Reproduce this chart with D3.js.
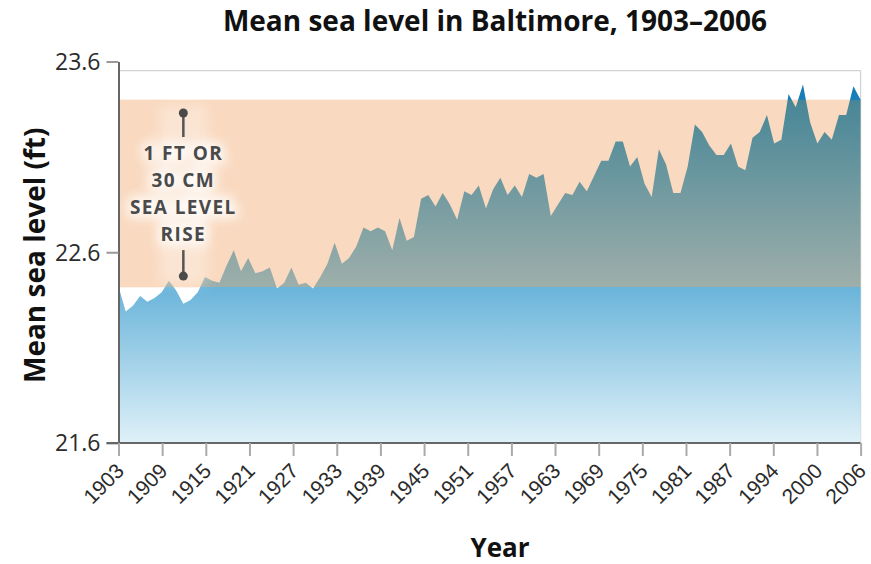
<!DOCTYPE html>
<html>
<head>
<meta charset="utf-8">
<script src="https://cdn.jsdelivr.net/npm/d3@7"></script>
<style>
  html, body { margin: 0; padding: 0; background: #fff; }
  svg { display: block; font-family: "Open Sans", "Noto Sans", sans-serif; }
</style>
</head>
<body>
<script>
// Annual mean sea level at Baltimore, in feet
const firstYear = 1903;
const lastYear = 2006;
const seaLevel = [
  22.42, 22.29, 22.32, 22.37, 22.34, 22.36, 22.39, 22.45, 22.40, 22.33, // 1903-1912
  22.35, 22.39, 22.47, 22.45, 22.44, 22.53, 22.61, 22.50, 22.57, 22.49, // 1913-1922
  22.50, 22.52, 22.41, 22.44, 22.52, 22.43, 22.44, 22.41, 22.47, 22.54, // 1923-1932
  22.65, 22.54, 22.57, 22.63, 22.73, 22.71, 22.73, 22.71, 22.61, 22.78, // 1933-1942
  22.66, 22.68, 22.88, 22.90, 22.84, 22.91, 22.85, 22.77, 22.92, 22.90, // 1943-1952
  22.95, 22.83, 22.93, 22.99, 22.90, 22.95, 22.89, 23.01, 22.99, 23.01, // 1953-1962
  22.79, 22.85, 22.91, 22.90, 22.97, 22.92, 23.00, 23.08, 23.08, 23.18, // 1963-1972
  23.18, 23.05, 23.10, 22.96, 22.89, 23.14, 23.06, 22.91, 22.91, 23.05, // 1973-1982
  23.27, 23.23, 23.16, 23.11, 23.11, 23.17, 23.05, 23.03, 23.20, 23.23, // 1983-1992
  23.32, 23.17, 23.19, 23.43, 23.36, 23.48, 23.28, 23.17, 23.23, 23.19, // 1993-2002
  23.32, 23.32, 23.47, 23.40                                             // 2003-2006
];
const years = d3.range(firstYear, lastYear + 1);

// Axis labels
const xTickLabels = ["1903", "1909", "1915", "1921", "1927", "1933", "1939", "1945", "1951",
                     "1957", "1963", "1969", "1975", "1981", "1987", "1994", "2000", "2006"];
const yTicks = [21.6, 22.6, 23.6];
const yDomain = [21.6, 23.6];

// Shaded band: one foot (30 cm) of rise
const bandTop = 23.4;
const bandRise = 0.984;
const bandBottom = bandTop - bandRise;
const noteMarks = [23.33, 22.475];
const noteYear = 1912;
const noteLines = ["1 FT OR", "30 CM", "SEA LEVEL", "RISE"];

const W = 871, H = 564;
const plotLeft = 118.5, plotRight = 860.6, plotTop = 61.5, plotBottom = 443;

const svg = d3.select("body").append("svg").attr("width", W).attr("height", H);

const x = d3.scaleLinear().domain([firstYear, lastYear]).range([plotLeft, plotRight]);
const xLab = d3.scalePoint().domain(xTickLabels).range([plotLeft, plotRight]);
const y = d3.scaleLinear().domain(yDomain).range([plotBottom, plotTop]);

const defs = svg.append("defs");
const off = v => (y(v) - y(yDomain[1])) / (y(yDomain[0]) - y(yDomain[1]));
const grad = defs.append("linearGradient")
  .attr("id", "seaFill").attr("gradientUnits", "userSpaceOnUse")
  .attr("x1", 0).attr("x2", 0).attr("y1", y(yDomain[1])).attr("y2", y(yDomain[0]));
[
  [yDomain[1], "#0571b2"],
  [bandTop, "#1a7fb9"],
  [bandTop, "#478697"],
  [bandBottom, "#9eafaa"],
  [bandBottom, "#6ab4da"],
  [yDomain[0], "#dff1f8"]
].forEach(([v, c]) => grad.append("stop").attr("offset", off(v)).attr("stop-color", c));

const glow = defs.append("filter").attr("id", "glow")
  .attr("x", "-50%").attr("y", "-50%").attr("width", "200%").attr("height", "200%");
glow.append("feGaussianBlur").attr("stdDeviation", 6);

// plot frame
svg.append("path")
  .attr("d", `M${plotLeft},${y(23.552)}H${plotRight}V${plotBottom}`)
  .attr("fill", "none").attr("stroke", "#d2d2d2").attr("stroke-width", 1.2);

// rise band
svg.append("rect")
  .attr("x", plotLeft).attr("width", plotRight - plotLeft)
  .attr("y", y(bandTop)).attr("height", y(bandBottom) - y(bandTop))
  .attr("fill", "#f9d9bf");

// sea level area
const area = d3.area()
  .x((d, i) => x(years[i]))
  .y0(y(yDomain[0]))
  .y1(d => y(d));
svg.append("path").datum(seaLevel)
  .attr("d", area)
  .attr("fill", "url(#seaFill)");

// annotation
const nx = x(noteYear);
const noteG = svg.append("g").attr("fill", "#4a4a4a");
const lineBase = [160, 187, 214, 241];
const noteFont = { size: 19, weight: 700, spacing: 1.4 };
noteG.append("rect")
  .attr("x", nx - 24).attr("width", 48)
  .attr("y", y(noteMarks[0]) - 8).attr("height", y(noteMarks[1]) - y(noteMarks[0]) + 16)
  .attr("fill", "#fff").attr("opacity", 0.3).attr("filter", "url(#glow)");
const glowText = noteG.append("g").attr("filter", "url(#glow)").attr("opacity", 0.85);
noteLines.forEach((t, i) => {
  glowText.append("text").attr("x", nx).attr("y", lineBase[i])
    .attr("text-anchor", "middle").attr("font-size", noteFont.size).attr("font-weight", noteFont.weight)
    .attr("letter-spacing", noteFont.spacing).attr("fill", "#fff").attr("stroke", "#fff").attr("stroke-width", 8)
    .text(t);
});
noteLines.forEach((t, i) => {
  noteG.append("text").attr("x", nx).attr("y", lineBase[i])
    .attr("text-anchor", "middle").attr("font-size", noteFont.size).attr("font-weight", noteFont.weight)
    .attr("letter-spacing", noteFont.spacing).text(t);
});
noteG.append("line").attr("x1", nx).attr("x2", nx)
  .attr("y1", y(noteMarks[0])).attr("y2", y(noteMarks[0]) + 24)
  .attr("stroke", "#555").attr("stroke-width", 2.5);
noteG.append("line").attr("x1", nx).attr("x2", nx)
  .attr("y1", y(noteMarks[1]) - 26).attr("y2", y(noteMarks[1]))
  .attr("stroke", "#555").attr("stroke-width", 2.5);
noteG.selectAll("circle").data(noteMarks).join("circle")
  .attr("cx", nx).attr("cy", d => y(d)).attr("r", 4.5).attr("fill", "#4a4a4a");

// y axis
const yAxis = svg.append("g").attr("transform", `translate(${plotLeft},0)`)
  .call(d3.axisLeft(y).tickValues(yTicks).tickFormat(d3.format(".1f"))
    .tickSize(12).tickSizeOuter(0).tickPadding(6));
yAxis.select(".domain").attr("stroke", "#666").attr("stroke-width", 2);
yAxis.selectAll(".tick line").attr("stroke", "#999").attr("stroke-width", 2);
yAxis.selectAll(".tick text").attr("font-size", 23).attr("fill", "#2b2b2b")
  .attr("font-family", "'Open Sans', sans-serif").attr("dy", "0.34em");

// x axis
const xAxis = svg.append("g").attr("transform", `translate(0,${plotBottom})`)
  .call(d3.axisBottom(xLab).tickSize(13).tickSizeOuter(0).tickPadding(0));
xAxis.select(".domain").attr("stroke", "#666").attr("stroke-width", 2)
  .attr("d", `M${plotLeft - 12},0H${plotRight}`);
xAxis.selectAll(".tick line").attr("stroke", "#aaa").attr("stroke-width", 2);
xAxis.selectAll(".tick text")
  .attr("font-size", 21).attr("fill", "#2b2b2b")
  .attr("text-anchor", "end")
  .attr("transform", "translate(1,24) rotate(-45)")
  .attr("y", 0).attr("dy", "0.35em");

// titles
svg.append("text").attr("x", 495).attr("y", 31)
  .attr("text-anchor", "middle").attr("font-size", 28).attr("font-weight", 700)
  .attr("fill", "#111").text("Mean sea level in Baltimore, 1903–2006");
svg.append("text")
  .attr("transform", `translate(45,${(plotTop + plotBottom) / 2 + 3}) rotate(-90)`)
  .attr("text-anchor", "middle").attr("font-size", 28).attr("font-weight", 700)
  .attr("fill", "#111").text("Mean sea level (ft)");
svg.append("text").attr("x", 500).attr("y", 557)
  .attr("text-anchor", "middle").attr("font-size", 26).attr("font-weight", 700)
  .attr("fill", "#111").text("Year");
</script>
</body>
</html>
